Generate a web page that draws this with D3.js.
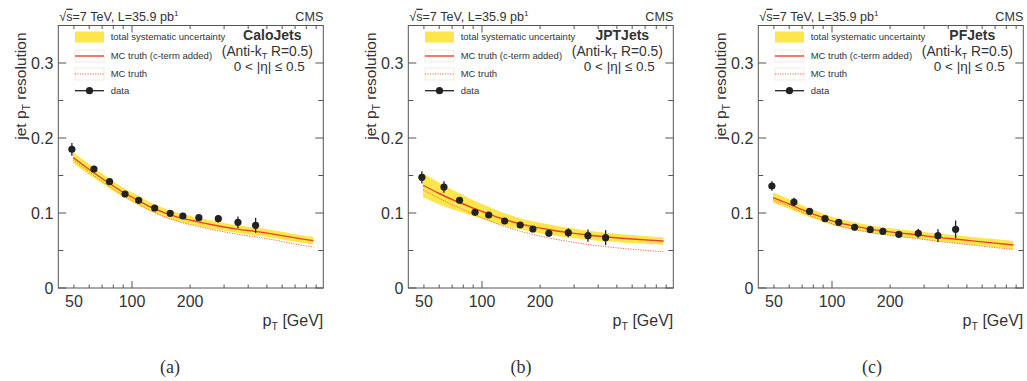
<!DOCTYPE html>
<html><head><meta charset="utf-8">
<script src="https://cdn.jsdelivr.net/npm/d3@7"></script>
<style>
body{margin:0;background:#fff;}
text{font-family:"Liberation Sans",Arial,Helvetica,sans-serif;fill:#333;}
</style></head>
<body><svg id="c" width="1027" height="381"></svg>
<script>
// ---- data ----
const panelNames = ["CaloJets", "JPTJets", "PFJets"];
const captions = ["(a)", "(b)", "(c)"];
const xLabelTicks = [50, 100, 200];
const xMajorTicks = [100];
const xMinorTicks = [50, 60, 70, 80, 90, 200, 300, 400, 500, 600, 700, 800, 900];
const yMajorTicks = [0, 0.1, 0.2, 0.3];
const yMinorTicks = [0.05, 0.15, 0.25];
const yTickLabels = ["0", "0.1", "0.2", "0.3"];

const dataPt = [48.8, 63.5, 76.5, 92, 108.3, 131, 157.7, 183.5, 222, 280, 354, 437];
const caloRes = [0.185, 0.1587, 0.1418, 0.1253, 0.1169, 0.1067, 0.0996, 0.096, 0.0938, 0.0924, 0.0876, 0.0836];
const caloErr = [0.0085, 0.004, 0.003, 0.003, 0.003, 0.003, 0.003, 0.003, 0.003, 0.0051, 0.0078, 0.010];
const jptRes = [0.1476, 0.1347, 0.1169, 0.1009, 0.0973, 0.0893, 0.084, 0.0787, 0.0729, 0.0738, 0.0698, 0.0671];
const jptErr = [0.0082, 0.0078, 0.004, 0.003, 0.003, 0.003, 0.003, 0.003, 0.003, 0.006, 0.0082, 0.010];
const pfRes = [0.136, 0.1147, 0.1022, 0.0924, 0.0876, 0.0809, 0.0778, 0.0756, 0.0716, 0.0729, 0.0698, 0.0782];
const pfErr = [0.0064, 0.0056, 0.003, 0.003, 0.003, 0.003, 0.003, 0.003, 0.003, 0.006, 0.0084, 0.0118];

const curvePt = [49.5, 60, 70, 80, 92, 100, 125, 150, 178, 217, 281, 350, 444, 550, 700, 872];
const caloMC = [0.174, 0.158, 0.146, 0.136, 0.126, 0.121, 0.108, 0.0995, 0.0935, 0.0885, 0.0827, 0.0785, 0.0751, 0.0715, 0.0668, 0.0631];
const caloTruth = [0.1710, 0.1547, 0.1424, 0.1322, 0.1219, 0.1167, 0.1031, 0.0942, 0.0879, 0.0825, 0.0763, 0.0717, 0.0679, 0.0639, 0.0586, 0.0544];
const caloSyst = [0.0073, 0.0070, 0.0067, 0.0065, 0.0063, 0.0062, 0.0060, 0.0058, 0.0057, 0.0056, 0.0054, 0.0053, 0.0052, 0.0051, 0.0050, 0.0049];
const jptMC = [0.137, 0.126, 0.118, 0.112, 0.1055, 0.102, 0.093, 0.087, 0.0825, 0.0783, 0.0738, 0.0706, 0.068, 0.066, 0.0642, 0.0627];
const jptTruth = [0.1310, 0.1195, 0.1110, 0.1046, 0.0976, 0.0938, 0.0840, 0.0773, 0.0722, 0.0673, 0.0620, 0.0582, 0.0550, 0.0525, 0.0502, 0.0483];
const jptSyst = [0.016, 0.0145, 0.013, 0.0118, 0.0105, 0.0099, 0.0086, 0.0078, 0.0073, 0.0069, 0.0066, 0.0062, 0.0058, 0.0055, 0.0052, 0.005];
const pfMC = [0.1205, 0.112, 0.1045, 0.0985, 0.093, 0.0895, 0.0835, 0.0795, 0.0765, 0.0738, 0.0707, 0.0675, 0.065, 0.0625, 0.0598, 0.0573];
const pfTruth = [0.1177, 0.1089, 0.1012, 0.0950, 0.0893, 0.0856, 0.0793, 0.0751, 0.0719, 0.0691, 0.0657, 0.0623, 0.0596, 0.0568, 0.0539, 0.0511];
const pfSyst = [0.0068, 0.0063, 0.006, 0.0057, 0.0055, 0.0054, 0.0052, 0.0051, 0.005, 0.005, 0.005, 0.0051, 0.0052, 0.0053, 0.0054, 0.0055];

const legendLabels = ["total systematic uncertainty", "MC truth (c-term added)", "MC truth", "data"];

// ---- drawing ----
const res = [caloRes, jptRes, pfRes];
const errs = [caloErr, jptErr, pfErr];
const mcs = [caloMC, jptMC, pfMC];
const truths = [caloTruth, jptTruth, pfTruth];
const systs = [caloSyst, jptSyst, pfSyst];

const svg = d3.select("#c");
const W = 265, H = 262.5, frameTop = 25.5;
const lefts = [58.3, 408.3, 758.3];
const capX = [170, 521, 872];
const BAND = "#fde64b", RED = "#e8432a", RED2 = "#f26a45", AX = "#555", DOT = "#222";

const x = d3.scaleLog().domain([41.5, 980]).range([0, W]);
const y = d3.scaleLinear().domain([0, 0.35]).range([H, 0]);

panelNames.forEach((name, i) => {
  const g = svg.append("g").attr("transform", `translate(${lefts[i]},${frameTop})`);

  // band
  const bandData = curvePt.map((p, k) => ({p, lo: mcs[i][k] - systs[i][k], hi: mcs[i][k] + systs[i][k]}));
  g.append("path").datum(bandData)
    .attr("d", d3.area().x(d => x(d.p)).y0(d => y(d.lo)).y1(d => y(d.hi)).curve(d3.curveMonotoneX))
    .attr("fill", BAND);
  const line = d3.line().x(d => x(d.p)).y(d => y(d.v)).curve(d3.curveMonotoneX);
  g.append("path").datum(curvePt.map((p, k) => ({p, v: truths[i][k]})))
    .attr("d", line).attr("fill", "none").attr("stroke", RED2).attr("stroke-width", 1)
    .attr("stroke-dasharray", "1.2,1.3");
  g.append("path").datum(curvePt.map((p, k) => ({p, v: mcs[i][k]})))
    .attr("d", line).attr("fill", "none").attr("stroke", RED).attr("stroke-width", 1.4);

  // data
  dataPt.forEach((p, k) => {
    const v = res[i][k], e = errs[i][k];
    g.append("line").attr("x1", x(p)).attr("x2", x(p)).attr("y1", y(v - e)).attr("y2", y(v + e))
      .attr("stroke", DOT).attr("stroke-width", 1.3);
    g.append("circle").attr("cx", x(p)).attr("cy", y(v)).attr("r", 3.6).attr("fill", DOT);
  });

  // frame
  g.append("rect").attr("x", 0).attr("y", 0).attr("width", W).attr("height", H)
    .attr("fill", "none").attr("stroke", AX).attr("stroke-width", 1);

  // y ticks
  yMajorTicks.forEach((t, k) => {
    g.append("line").attr("x1", 0).attr("x2", 8).attr("y1", y(t)).attr("y2", y(t)).attr("stroke", AX);
    g.append("line").attr("x1", W).attr("x2", W - 8).attr("y1", y(t)).attr("y2", y(t)).attr("stroke", AX);
    g.append("text").attr("x", -5).attr("y", y(t)).attr("dy", "0.36em").attr("text-anchor", "end")
      .attr("font-size", 16).text(yTickLabels[k]);
  });
  yMinorTicks.forEach(t => {
    g.append("line").attr("x1", 0).attr("x2", 5).attr("y1", y(t)).attr("y2", y(t)).attr("stroke", AX);
    g.append("line").attr("x1", W).attr("x2", W - 5).attr("y1", y(t)).attr("y2", y(t)).attr("stroke", AX);
  });
  // x ticks
  xMajorTicks.forEach(t => {
    g.append("line").attr("x1", x(t)).attr("x2", x(t)).attr("y1", H).attr("y2", H - 7).attr("stroke", AX);
    g.append("line").attr("x1", x(t)).attr("x2", x(t)).attr("y1", 0).attr("y2", 7).attr("stroke", AX);
  });
  xMinorTicks.forEach(t => {
    g.append("line").attr("x1", x(t)).attr("x2", x(t)).attr("y1", H).attr("y2", H - 3.5).attr("stroke", AX);
    g.append("line").attr("x1", x(t)).attr("x2", x(t)).attr("y1", 0).attr("y2", 3.5).attr("stroke", AX);
  });
  xLabelTicks.forEach(t => {
    g.append("text").attr("x", x(t)).attr("y", H + 18.5).attr("text-anchor", "middle")
      .attr("font-size", 16).text(t);
  });

  // axis titles
  const xt = g.append("text").attr("x", W).attr("y", H + 38).attr("text-anchor", "end").attr("font-size", 16);
  xt.append("tspan").text("p");
  xt.append("tspan").attr("font-size", 10.5).attr("dy", 4).text("T");
  xt.append("tspan").attr("dy", -4).text(" [GeV]");
  const yt = g.append("text").attr("transform", `translate(-32,7) rotate(-90)`)
    .attr("text-anchor", "end").attr("font-size", 15.5);
  yt.append("tspan").text("jet p");
  yt.append("tspan").attr("font-size", 10.5).attr("dy", 4).text("T");
  yt.append("tspan").attr("dy", -4).text(" resolution");

  // header
  const ht = g.append("text").attr("x", 1).attr("y", -4.8).attr("font-size", 12.6);
  ht.append("tspan").text("√");
  ht.append("tspan").attr("text-decoration", "overline").text("s");
  ht.append("tspan").text("=7 TeV, L=35.9 pb");
  ht.append("tspan").attr("font-size", 8).attr("dy", -4.5).text("1");
  g.append("text").attr("x", W).attr("y", -4.8).attr("text-anchor", "end").attr("font-size", 12.6).text("CMS");

  // right labels
  const cx = 211;
  g.append("text").attr("x", cx + 3).attr("y", 14).attr("text-anchor", "middle")
    .attr("font-size", 14).attr("font-weight", "bold").text(name);
  const at = g.append("text").attr("x", cx - 2).attr("y", 30).attr("text-anchor", "middle").attr("font-size", 13.8);
  at.append("tspan").text("(Anti-k");
  at.append("tspan").attr("font-size", 9).attr("dy", 3.5).text("T");
  at.append("tspan").attr("dy", -3.5).text(" R=0.5)");
  g.append("text").attr("x", cx).attr("y", 45.5).attr("text-anchor", "middle").attr("font-size", 13.5)
    .text("0 < |η| ≤ 0.5");

  // legend
  const lx0 = 16.7, lx1 = 45.7, tx = 52.4;
  const rows = [11.5, 30.5, 48.5, 65.2];
  g.append("rect").attr("x", lx0).attr("y", rows[0] - 5.5).attr("width", lx1 - lx0).attr("height", 11).attr("fill", BAND);
  g.append("rect").attr("x", lx0).attr("y", rows[1] - 6).attr("width", lx1 - lx0).attr("height", 12)
    .attr("fill", "none").attr("stroke", "#f6e3dc").attr("stroke-width", 0.8);
  g.append("line").attr("x1", lx0).attr("x2", lx1).attr("y1", rows[1]).attr("y2", rows[1])
    .attr("stroke", RED).attr("stroke-width", 1.4);
  g.append("rect").attr("x", lx0).attr("y", rows[2] - 6).attr("width", lx1 - lx0).attr("height", 12)
    .attr("fill", "none").attr("stroke", "#f6e3dc").attr("stroke-width", 0.8);
  g.append("line").attr("x1", lx0).attr("x2", lx1).attr("y1", rows[2]).attr("y2", rows[2])
    .attr("stroke", RED2).attr("stroke-width", 1).attr("stroke-dasharray", "1.2,1.3");
  g.append("line").attr("x1", lx0).attr("x2", lx1).attr("y1", rows[3]).attr("y2", rows[3])
    .attr("stroke", DOT).attr("stroke-width", 1.3);
  g.append("circle").attr("cx", (lx0 + lx1) / 2).attr("cy", rows[3]).attr("r", 3.6).attr("fill", DOT);
  legendLabels.forEach((l, k) => {
    g.append("text").attr("x", tx).attr("y", rows[k]).attr("dy", "0.33em").attr("font-size", 9.5).text(l);
  });

  // caption
  svg.append("text").attr("x", capX[i]).attr("y", 373).attr("text-anchor", "middle")
    .style("font-family", "'Liberation Serif','DejaVu Serif',serif").attr("font-size", 18).text(captions[i]);
});
</script></body></html>
